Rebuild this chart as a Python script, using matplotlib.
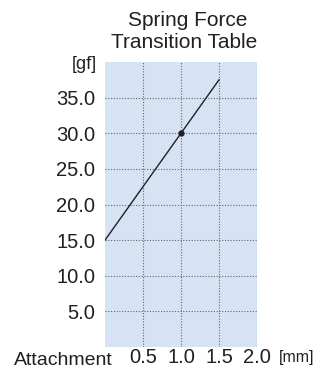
import matplotlib
matplotlib.use("Agg")
import matplotlib.pyplot as plt

plt.rcParams['font.family'] = ['Liberation Sans', 'DejaVu Sans']

# data
stroke_mm = [0.0, 1.0, 1.5]
force_gf = [15.0, 30.0, 37.5]
marker_mm = [1.0]
marker_gf = [30.0]
x_ticks = [0.5, 1.0, 1.5, 2.0]
x_labels = ["0.5", "1.0", "1.5", "2.0"]
y_ticks = [5, 10, 15, 20, 25, 30, 35]
y_labels = ["5.0", "10.0", "15.0", "20.0", "25.0", "30.0", "35.0"]

W, H = 317, 368
fig = plt.figure(figsize=(W / 100, H / 100), dpi=100)
ax = fig.add_axes([105 / W, 21 / H, 152 / W, 285 / H])
ax.set_facecolor("#d5e3f4")

ax.plot(stroke_mm, force_gf, color="#231f20", linewidth=1.0)
ax.plot(marker_mm, marker_gf, "o", color="#231f20", markersize=3.5)

ax.set_xlim(0, 2.0)
ax.set_ylim(0, 40)
ax.set_xticks(x_ticks)
ax.set_xticklabels(x_labels)
ax.set_yticks(y_ticks)
ax.set_yticklabels(y_labels)
ax.tick_params(length=0, labelsize=14.5, colors="#231f20", pad=7)
ax.tick_params(axis="x", pad=1)
ax.grid(True, linestyle=(0, (1, 1.5)), color="#666666", linewidth=0.8)
for s in ax.spines.values():
    s.set_visible(False)

txt = dict(color="#231f20", va="baseline")
fig.text(188 / W, 1 - 26 / H, "Spring Force", ha="center", fontsize=15, **txt)
fig.text(184 / W, 1 - 48 / H, "Transition Table", ha="center", fontsize=15, **txt)
fig.text(97 / W, 1 - 69 / H, "[gf]", ha="right", fontsize=13, **txt)
fig.text(14 / W, 1 - 365 / H, "Attachment", ha="left", fontsize=14, **txt)
fig.text(279 / W, 1 - 362 / H, "[mm]", ha="left", fontsize=11.5, **txt)

fig.savefig("out.png", dpi=100)
